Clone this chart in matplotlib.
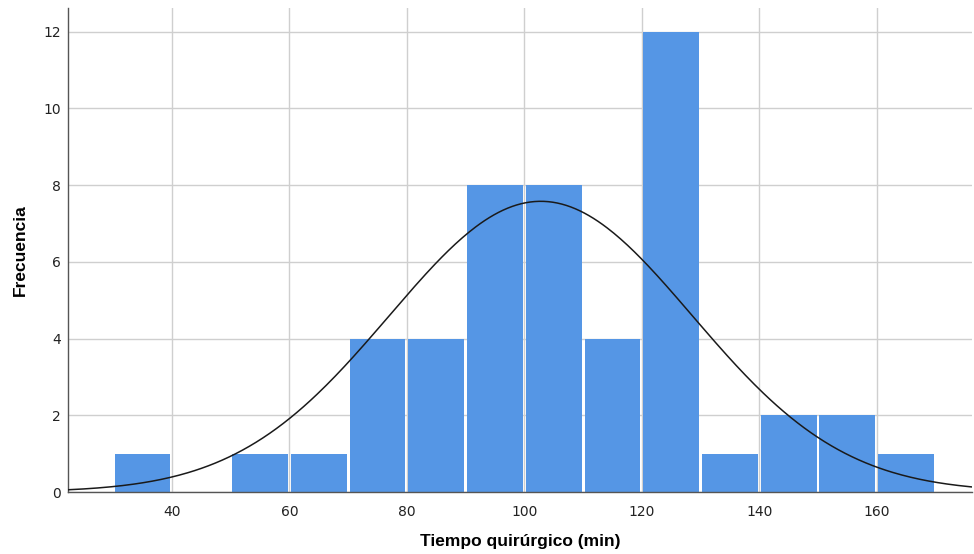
import numpy as np
import matplotlib
matplotlib.use("Agg")
import matplotlib.pyplot as plt

# Surgical time histogram (10-minute bins) with fitted normal curve
bin_edges = [30, 40, 50, 60, 70, 80, 90, 100, 110, 120, 130, 140, 150, 160, 170]
counts = [1, 0, 1, 1, 4, 4, 8, 8, 4, 12, 1, 2, 2, 1]
mean_time = 102.8
sd_time = 25.8
x_ticks = [40, 60, 80, 100, 120, 140, 160]
y_ticks = [0, 2, 4, 6, 8, 10, 12]

bar_color = "#5596e5"
grid_color = "#cfcfcf"

fig = plt.figure(figsize=(9.74, 5.54), dpi=100)
ax = fig.add_axes([0.0698, 0.1119, 0.928, 0.874])

edges = np.array(bin_edges, dtype=float)
width = np.diff(edges)
ax.bar(edges[:-1] + width / 2, counts, width=width - 0.5, color=bar_color,
       edgecolor="none", zorder=2)

n_total = sum(counts)
bw = width[0]
xs = np.linspace(22.3, 176.2, 400)
ys = n_total * bw / (sd_time * np.sqrt(2 * np.pi)) * np.exp(-0.5 * ((xs - mean_time) / sd_time) ** 2)
ax.plot(xs, ys, color="#1a1a1a", lw=1.1, zorder=3)

ax.set_xlim(22.3, 176.2)
ax.set_ylim(0, 12.62)
ax.set_xticks(x_ticks)
ax.set_yticks(y_ticks)
ax.grid(True, color=grid_color, lw=1.0, zorder=0)
ax.set_axisbelow(True)
ax.tick_params(axis="x", length=0, labelsize=10, colors="#222222", pad=9)
ax.tick_params(axis="y", length=0, labelsize=10, colors="#222222", pad=5)
for s in ["top", "right"]:
    ax.spines[s].set_visible(False)
for s in ["left", "bottom"]:
    ax.spines[s].set_color("#555555")
    ax.spines[s].set_linewidth(1.0)

label_font = dict(family=["Liberation Sans", "DejaVu Sans"], fontsize=12.5, fontweight="bold")
ax.set_xlabel("Tiempo quirúrgico (min)", labelpad=11, **label_font)
ax.set_ylabel("Frecuencia", labelpad=11, **label_font)

fig.savefig("out.png", dpi=100)
